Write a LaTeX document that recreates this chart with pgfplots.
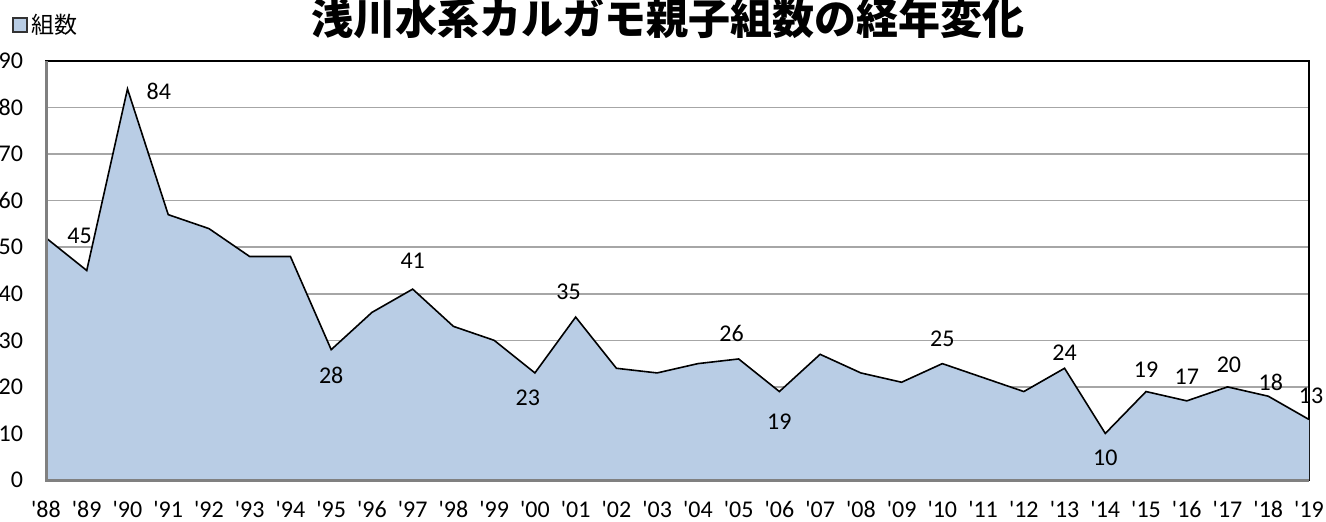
\documentclass[border=0pt]{standalone}
\usepackage{pgfplots}
\pgfplotsset{compat=1.18}
\usepackage{pgfplotstable}
\usepackage{fontspec}
\setmainfont{Carlito}
\newfontfamily\cjk{Noto Sans CJK JP}
\definecolor{areac}{HTML}{B9CDE5}
\definecolor{gridc}{HTML}{A6A6A6}
\newcommand\q{\textquotesingle}
\pgfplotstableread{
x y
0 52
1 45
2 84
3 57
4 54
5 48
6 48
7 28
8 36
9 41
10 33
11 30
12 23
13 35
14 24
15 23
16 25
17 26
18 19
19 27
20 23
21 21
22 25
23 22
24 19
25 24
26 10
27 19
28 17
29 20
30 18
31 13
}\data
\pgfplotstableread{
x y dx dy
1 45 -3.6 17.4
2 84 15.7 -1
7 28 0 -13
9 41 0 14.1
12 23 -3.5 -12.5
13 35 -3.5 12.5
17 26 -3.5 12.5
18 19 0 -15.2
22 25 0 12.3
25 24 0 7.8
26 10 0 -12.2
27 19 0 10.8
28 17 0 12
29 20 0.7 11
30 18 1.3 7
31 13 1 12
}\labs
\begin{document}
\begin{tikzpicture}
\begin{axis}[
  name=ax,
  scale only axis,
  width=631.5pt, height=209.5pt,
  xmin=0, xmax=31, ymin=0, ymax=90,
  xtick={0,...,31},
  xticklabels={\q88,\q89,\q90,\q91,\q92,\q93,\q94,\q95,\q96,\q97,\q98,\q99,\q00,\q01,\q02,\q03,\q04,\q05,\q06,\q07,\q08,\q09,\q10,\q11,\q12,\q13,\q14,\q15,\q16,\q17,\q18,\q19},
  ytick={0,10,...,90},
  /pgf/number format/assume math mode=true,
  major tick length=0pt,
  tick label style={font=\fontsize{12}{12}\selectfont},
  xticklabel style={yshift=-7pt},
  yticklabel style={xshift=-8pt},
  ymajorgrids,
  grid style={gridc, line width=0.75pt},
  axis line style={black, line width=0.9pt},
  clip=false,
  title={\cjk\bfseries 浅川水系カルガモ親子組数の経年変化},
  title style={at={(0.4925,1.072)}, anchor=center, font=\fontsize{21}{21}\selectfont},
  legend style={at={(-0.027,1.086)}, anchor=west, draw=none, fill=none,
    font=\cjk\fontsize{11.5}{12}\selectfont, inner sep=0pt},
  legend image code/.code={\draw[fill=areac, draw=black!80, line width=0.6pt] (0pt,-3.5pt) rectangle (7pt,3.5pt);},
]
\addplot[fill=areac, draw=none] table {\data} \closedcycle;
\addlegendentry{組数}
\addplot[black, line width=0.8pt, mark=none, forget plot] table {\data};
\draw[black!50, line width=1.5pt] (rel axis cs:0,1) -- (rel axis cs:0,0) -- (rel axis cs:1,0);
\addplot[draw=none, mark=none, forget plot,
  nodes near coords, point meta=explicit symbolic,
  visualization depends on={\thisrow{dx}\as\dx},
  visualization depends on={\thisrow{dy}\as\dy},
  nodes near coords style={anchor=center, inner sep=0pt, xshift=\dx pt, yshift=\dy pt, font=\fontsize{12}{12}\selectfont, black}]
  table[meta=y] {\labs};
\end{axis}
\pgfresetboundingbox
\path[use as bounding box] ([shift={(-23pt,-20.5pt)}]ax.south west) rectangle ([shift={(640pt,240pt)}]ax.south west);
\end{tikzpicture}
\end{document}
